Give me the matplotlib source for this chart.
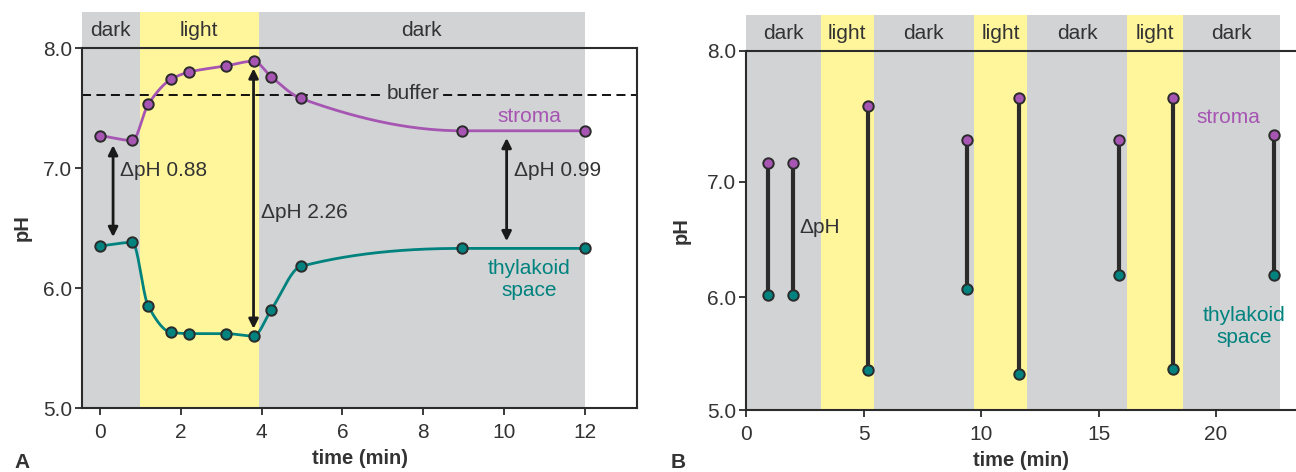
import numpy as np
import matplotlib.pyplot as plt
from matplotlib.transforms import blended_transform_factory

plt.rcParams['font.family'] = ['Liberation Sans', 'DejaVu Sans']

# panel A: continuous record
time_a = [0.0, 0.80, 1.19, 1.76, 2.21, 3.11, 3.80, 4.24, 4.97, 8.97, 12.0]
stroma_a = [7.27, 7.23, 7.53, 7.74, 7.80, 7.85, 7.89, 7.76, 7.58, 7.31, 7.31]
thylakoid_a = [6.35, 6.38, 5.85, 5.63, 5.62, 5.62, 5.60, 5.82, 6.18, 6.33, 6.33]
buffer_ph = 7.61
period_edges_a = [-0.45, 0.98, 3.93, 12.0]
period_labels_a = ["dark", "light", "dark"]
delta_times_a = [0.32, 3.80, 10.07]
delta_labels_a = ["ΔpH 0.88", "ΔpH 2.26", "ΔpH 0.99"]

# panel B: repeated light/dark cycles
time_b = [0.93, 1.98, 5.20, 9.42, 11.63, 15.88, 18.17, 22.48]
stroma_b = [7.14, 7.14, 7.58, 7.32, 7.64, 7.32, 7.64, 7.36]
thylakoid_b = [6.02, 6.02, 5.35, 6.07, 5.32, 6.19, 5.36, 6.19]
period_edges_b = [0.0, 3.17, 5.43, 9.70, 11.97, 16.23, 18.58, 22.73]
period_labels_b = ["dark", "light", "dark", "light", "dark", "light", "dark"]

GRAY = "#d1d3d4"
YELLOW = "#fff69c"
PURPLE = "#a655b3"
TEAL = "#00827e"
INK = "#2b2b2b"
TXT = "#333333"
FS = 15


def pchip(x, y, xs):
    x = np.asarray(x, float)
    y = np.asarray(y, float)
    h = np.diff(x)
    d = np.diff(y) / h
    m = np.zeros_like(y)
    m[0], m[-1] = d[0], d[-1]
    for k in range(1, len(x) - 1):
        if d[k - 1] * d[k] > 0:
            w1 = 2 * h[k] + h[k - 1]
            w2 = h[k] + 2 * h[k - 1]
            m[k] = (w1 + w2) / (w1 / d[k - 1] + w2 / d[k])
    i = np.clip(np.searchsorted(x, xs) - 1, 0, len(x) - 2)
    s = (xs - x[i]) / h[i]
    h00 = 2 * s**3 - 3 * s**2 + 1
    h10 = s**3 - 2 * s**2 + s
    h01 = -2 * s**3 + 3 * s**2
    h11 = s**3 - s**2
    return h00 * y[i] + h10 * h[i] * m[i] + h01 * y[i + 1] + h11 * h[i] * m[i + 1]


def style_axes(ax):
    for sp in ax.spines.values():
        sp.set_color(INK)
        sp.set_linewidth(1.5)
    ax.tick_params(direction="out", length=5, width=1.3, color=INK,
                   labelsize=FS, labelcolor=TXT, pad=2)
    ax.tick_params(axis="x", pad=6)
    ax.set_xlabel("time (min)", fontsize=14.5, fontweight="bold", color=TXT, labelpad=5)
    ax.set_ylabel("pH", fontsize=14.5, fontweight="bold", color=TXT)


def draw_periods(ax, edges, labels):
    tr = blended_transform_factory(ax.transData, ax.transAxes)
    for lo, hi, lab in zip(edges[:-1], edges[1:], labels):
        col = YELLOW if lab == "light" else GRAY
        ax.add_patch(plt.Rectangle((lo, 0), hi - lo, 1.10, transform=tr,
                                   facecolor=col, edgecolor="none",
                                   clip_on=False, zorder=0))
        ax.text((lo + hi) / 2, 1.05, lab, transform=tr, ha="center",
                va="center", fontsize=FS, color=TXT)


fig = plt.figure(figsize=(12.96, 4.72), dpi=100)

# ---- panel A
ax = fig.add_axes([82 / 1296, 64 / 472, 555 / 1296, 360 / 472])
ax.set_xlim(-0.45, 13.3)
ax.set_ylim(5.0, 8.0)
draw_periods(ax, period_edges_a, period_labels_a)

tt = np.linspace(time_a[0], time_a[-1], 600)
ax.plot(tt, pchip(time_a, stroma_a, tt), color=PURPLE, lw=2.0, zorder=3)
ax.plot(tt, pchip(time_a, thylakoid_a, tt), color=TEAL, lw=2.0, zorder=3)
ax.plot(time_a, stroma_a, "o", ms=7.5, mfc=PURPLE, mec=INK, mew=1.4, zorder=4)
ax.plot(time_a, thylakoid_a, "o", ms=7.5, mfc=TEAL, mec=INK, mew=1.4, zorder=4)

ax.axhline(buffer_ph, color="black", lw=1.3, ls=(0, (5, 3)), zorder=2)
ax.text(7.75, buffer_ph + 0.01, "buffer", ha="center", va="center", fontsize=FS,
        color=TXT, zorder=2.5,
        bbox=dict(facecolor=GRAY, edgecolor="none", pad=1.0))

label_y_a = [6.98, 6.63, 6.98]
for t, lab, ly in zip(delta_times_a, delta_labels_a, label_y_a):
    top = float(pchip(time_a, stroma_a, np.array([t]))[0]) - 0.06
    bot = float(pchip(time_a, thylakoid_a, np.array([t]))[0]) + 0.06
    ax.annotate("", xy=(t, top), xytext=(t, bot),
                arrowprops=dict(arrowstyle="<|-|>", color="#1a1a1a", lw=2.0,
                                mutation_scale=14, shrinkA=0, shrinkB=0),
                zorder=3)
    ax.text(t + 0.18, ly, lab, ha="left", va="center", fontsize=FS, color=TXT)

ax.text(10.63, 7.43, "stroma", ha="center", va="center", fontsize=FS, color=PURPLE)
ax.text(10.63, 6.07, "thylakoid\nspace", ha="center", va="center", fontsize=FS,
        color=TEAL, linespacing=1.2)

ax.set_xticks(range(0, 13, 2))
ax.set_yticks([5, 6, 7, 8])
ax.set_yticklabels(["5.0", "6.0", "7.0", "8.0"])
style_axes(ax)
ax.yaxis.labelpad = 8

# ---- panel B (the printed axis is not evenly spaced between ticks)
b_ticks = [5.0, 6.0, 7.0, 8.0]
b_pos = [5.0, 5.944, 6.908, 8.0]

ax2 = fig.add_axes([746 / 1296, 62 / 472, 550 / 1296, 359 / 472])
ax2.set_yscale("function", functions=(lambda v: np.interp(v, b_ticks, b_pos),
                                      lambda v: np.interp(v, b_pos, b_ticks)))
ax2.set_xlim(0, 23.4)
ax2.set_ylim(5.0, 8.0)
draw_periods(ax2, period_edges_b, period_labels_b)

ax2.vlines(time_b, thylakoid_b, stroma_b, color=INK, lw=3.0, zorder=3)
ax2.plot(time_b, stroma_b, "o", ms=7.5, mfc=PURPLE, mec=INK, mew=1.4, zorder=4)
ax2.plot(time_b, thylakoid_b, "o", ms=7.5, mfc=TEAL, mec=INK, mew=1.4, zorder=4)

ax2.text(2.28, 6.6, "ΔpH", ha="left", va="center", fontsize=FS, color=TXT)
ax2.text(20.53, 7.49, "stroma", ha="center", va="center", fontsize=FS, color=PURPLE)
ax2.text(21.2, 5.74, "thylakoid\nspace", ha="center", va="center", fontsize=FS,
         color=TEAL, linespacing=1.2)

ax2.set_xticks(range(0, 21, 5))
ax2.set_yticks(b_ticks)
ax2.set_yticklabels(["5.0", "6.0", "7.0", "8.0"])
ax2.yaxis.set_minor_locator(plt.NullLocator())
ax2.spines["right"].set_visible(False)
style_axes(ax2)
ax2.yaxis.labelpad = 12

fig.text(14 / 1296, 4 / 472, "A", fontsize=15, fontweight="bold", color=TXT)
fig.text(671 / 1296, 4 / 472, "B", fontsize=15, fontweight="bold", color=TXT)

fig.savefig("out.png", dpi=100)
